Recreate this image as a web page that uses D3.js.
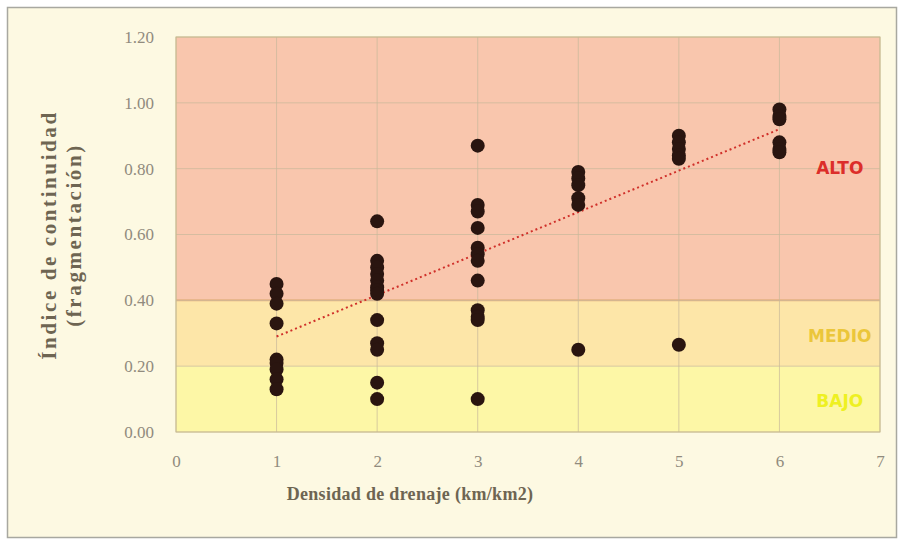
<!DOCTYPE html>
<html><head><meta charset="utf-8">
<script src="https://cdn.jsdelivr.net/npm/d3@7"></script>
<style>
body{margin:0;background:#fff;}
svg{display:block;}
</style></head>
<body><svg id="c" width="904" height="545"></svg>
<script>
// ---- data ----
const xTicks = [0,1,2,3,4,5,6,7];
const yTicks = [0,0.2,0.4,0.6,0.8,1.0,1.2];
const pointX = [1,1,1,1,1,1,1,1,1,
  2,2,2,2,2,2,2,2,2,2,2,2,2,
  3,3,3,3,3,3,3,3,3,3,3,3,
  4,4,4,4,4,4,
  5,5,5,5,5,5,
  6,6,6,6,6,6];
const pointY = [0.45,0.42,0.39,0.33,0.22,0.21,0.19,0.16,0.13,
  0.64,0.52,0.50,0.48,0.46,0.44,0.43,0.42,0.34,0.27,0.25,0.15,0.10,
  0.87,0.69,0.67,0.62,0.56,0.54,0.52,0.46,0.37,0.35,0.34,0.10,
  0.79,0.77,0.75,0.71,0.69,0.25,
  0.90,0.88,0.86,0.84,0.83,0.265,
  0.98,0.96,0.95,0.88,0.86,0.85];
const trendX = [1,6];
const trendY = [0.29,0.92];
const bandNames = ["BAJO","MEDIO","ALTO"];
const bandFrom = [0,0.2,0.4];
const bandTo = [0.2,0.4,1.2];
const bandLabelY = [0.09,0.29,0.80];

// ---- layout ----
const svg = d3.select("#c");
const L=176, R=880, T=37, B=432;
const x = d3.scaleLinear().domain([0,7]).range([L,R]);
const y = d3.scaleLinear().domain([0,1.2]).range([B,T]);
const font = "'Liberation Serif','DejaVu Serif',serif";

svg.append("rect").attr("x",0).attr("y",0).attr("width",904).attr("height",545).attr("fill","#fff");
svg.append("rect").attr("x",7.5).attr("y",7.5).attr("width",889).attr("height",530)
  .attr("fill","#fdf9e2").attr("stroke","#a8a8a0").attr("stroke-width",1.5);

const bandFill = ["#fdf7a6","#fde6a8","#f9c6ad"];
const bandLabelColor = ["#eef022","#ebc63a","#dc2e2a"];
bandNames.forEach((n,i)=>{
  svg.append("rect").attr("x",L).attr("y",y(bandTo[i])).attr("width",R-L)
    .attr("height",y(bandFrom[i])-y(bandTo[i])).attr("fill",bandFill[i]);
});
svg.append("line").attr("x1",L).attr("x2",R).attr("y1",y(0.4)).attr("y2",y(0.4))
  .attr("stroke","#e8b080").attr("stroke-width",2);

// grid
const g = svg.append("g");
yTicks.forEach(v=>{
  g.append("line").attr("x1",L).attr("x2",R).attr("y1",y(v)).attr("y2",y(v))
   .attr("stroke","#c8b89a").attr("stroke-opacity",0.7).attr("stroke-width",1);
});
xTicks.forEach(v=>{
  g.append("line").attr("y1",T).attr("y2",B).attr("x1",x(v)).attr("x2",x(v))
   .attr("stroke","#c8b89a").attr("stroke-opacity",0.7).attr("stroke-width",1);
});
svg.append("rect").attr("x",L).attr("y",T).attr("width",R-L).attr("height",B-T)
  .attr("fill","none").attr("stroke","#c8bb90").attr("stroke-width",1);

// axes (text only)
const xAxis = svg.append("g").attr("transform",`translate(0,${B})`)
  .call(d3.axisBottom(x).tickValues(xTicks).tickFormat(d3.format("d")).tickSize(0).tickPadding(23));
const yAxis = svg.append("g").attr("transform",`translate(${L},0)`)
  .call(d3.axisLeft(y).tickValues(yTicks).tickFormat(d3.format(".2f")).tickSize(0).tickPadding(22));
[xAxis,yAxis].forEach(a=>{
  a.select(".domain").remove();
  a.selectAll("text").attr("font-family",font).attr("font-size",17).attr("fill","#918b7e");
});

// band labels
bandNames.forEach((n,i)=>{
  svg.append("text").attr("x",x(6.6)).attr("y",y(bandLabelY[i])).attr("text-anchor","middle")
    .attr("dominant-baseline","middle").attr("font-family","'DejaVu Sans','Liberation Sans',sans-serif")
    .attr("font-weight","bold").attr("font-size",17).attr("fill",bandLabelColor[i])
    .text(n);
});

// trend line
svg.append("line").attr("x1",x(trendX[0])).attr("y1",y(trendY[0]))
  .attr("x2",x(trendX[1])).attr("y2",y(trendY[1]))
  .attr("stroke","#d0302a").attr("stroke-width",2).attr("stroke-dasharray","2,3");

// points
svg.append("g").selectAll("circle").data(pointX.map((d,i)=>[d,pointY[i]])).join("circle")
  .attr("cx",d=>x(d[0])).attr("cy",d=>y(d[1])).attr("r",7).attr("fill","#2a1510");

// titles
svg.append("text").attr("x",410).attr("y",500).attr("text-anchor","middle")
  .attr("font-family",font).attr("font-weight","bold").attr("font-size",18).attr("letter-spacing",0.3)
  .attr("fill","#6e6552")
  .text("Densidad de drenaje (km/km2)");
const yt = svg.append("text").attr("transform","translate(62,235) rotate(-90)").attr("text-anchor","middle")
  .attr("font-family",font).attr("font-weight","bold").attr("font-size",21).attr("letter-spacing",2.6)
  .attr("fill","#6e6552");
yt.append("tspan").attr("x",0).attr("dy",-6).text("Índice de continuidad");
yt.append("tspan").attr("x",0).attr("dy",25).text("(fragmentación)");
</script></body></html>
